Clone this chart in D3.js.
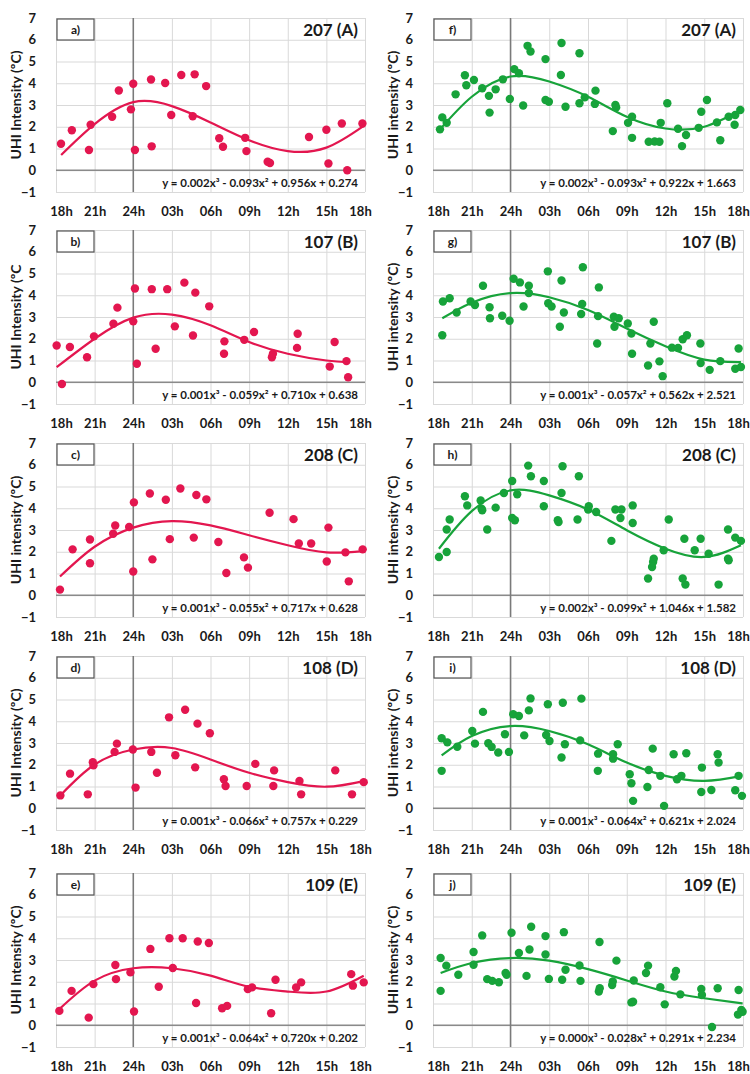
<!DOCTYPE html>
<html>
<head>
<meta charset="utf-8">
<script src="https://cdn.jsdelivr.net/npm/d3@7"></script>
<style>
  body { margin: 0; background: #fff; }
  svg text { font-family: Lato, "Open Sans", sans-serif; fill: #1a1a1a; }
</style>
</head>
<body>
<div id="chart"></div>
<script>
// axis values
var hourVals = [0, 3, 6, 9, 12, 15, 18, 21, 24];
var hourLabels = ["18h", "21h", "24h", "03h", "06h", "09h", "12h", "15h", "18h"];
var yTicks = [-1, 0, 1, 2, 3, 4, 5, 6, 7];

var panelIds = ["a)", "b)", "c)", "d)", "e)", "f)", "g)", "h)", "i)", "j)"];
var siteNames = ["207 (A)", "107 (B)", "208 (C)", "108 (D)", "109 (E)", "207 (A)", "107 (B)", "208 (C)", "108 (D)", "109 (E)"];
var yTitles = ["UHI Intensity (ºC)", "UHI Intensity (ºC", "UHI intensity (ºC)", "UHI Intensity (ºC)", "UHI Intensity (ºC)",
               "UHI intensity (ºC)", "UHI intensity (ºC)", "UHI intensity (ºC)", "UHI intensity (ºC)", "UHI intensity (ºC)"];
var equations = [
  "y = 0.002x³ - 0.093x² + 0.956x + 0.274",
  "y = 0.001x³ - 0.059x² + 0.710x + 0.638",
  "y = 0.001x³ - 0.055x² + 0.717x + 0.628",
  "y = 0.001x³ - 0.066x² + 0.757x + 0.229",
  "y = 0.001x³ - 0.064x² + 0.720x + 0.202",
  "y = 0.002x³ - 0.093x² + 0.922x + 1.663",
  "y = 0.001x³ - 0.057x² + 0.562x + 2.521",
  "y = 0.002x³ - 0.099x² + 1.046x + 1.582",
  "y = 0.001x³ - 0.064x² + 0.621x + 2.024",
  "y = 0.000x³ - 0.028x² + 0.291x + 2.234"
];

// points: [hours after 18h, UHI intensity]
var pointsA = [[0.39,1.22],[1.23,1.84],[2.56,0.93],[2.69,2.09],[4.36,2.46],[4.88,3.67],[5.82,2.80],[6.0,3.98],[6.13,0.93],[7.38,4.17],[7.43,1.10],[8.48,4.01],[8.95,2.54],[9.73,4.38],[10.62,2.48],[10.77,4.41],[11.66,3.87],[12.68,1.47],[12.97,1.08],[14.69,1.49],[14.79,0.88],[16.44,0.39],[16.62,0.33],[19.65,1.53],[21.0,1.86],[21.16,0.31],[22.2,2.15],[22.62,0.0],[23.8,2.15]];
var pointsB = [[0.05,1.69],[0.46,-0.08],[1.08,1.62],[2.41,1.15],[2.95,2.11],[4.46,2.69],[4.77,3.43],[6.0,2.80],[6.13,4.31],[6.28,0.85],[7.44,4.28],[7.74,1.54],[8.64,4.28],[9.23,2.57],[9.97,4.58],[10.64,2.15],[10.82,4.12],[11.9,3.49],[13.08,1.88],[13.05,1.31],[14.62,1.95],[15.38,2.31],[16.77,1.15],[16.85,1.31],[18.77,2.23],[18.72,1.58],[21.26,0.72],[21.64,1.85],[22.56,0.97],[22.69,0.23]];
var pointsC = [[0.31,0.26],[1.29,2.11],[2.64,2.56],[2.64,1.47],[4.44,2.83],[4.6,3.21],[5.68,3.14],[6.05,4.27],[6.0,1.09],[7.29,4.68],[7.49,1.65],[8.53,4.39],[8.84,2.58],[9.66,4.91],[10.7,2.65],[10.9,4.61],[11.68,4.41],[12.61,2.45],[13.23,1.02],[14.6,1.74],[14.91,1.27],[16.59,3.79],[18.45,3.5],[18.86,2.38],[19.82,2.38],[21.03,1.55],[21.16,3.11],[22.48,1.97],[22.74,0.64],[23.82,2.11]];
var pointsD = [[0.34,0.59],[1.09,1.59],[2.47,0.64],[2.86,2.12],[2.91,1.97],[4.55,2.59],[4.73,2.97],[5.97,2.70],[6.18,0.95],[7.4,2.59],[7.84,1.63],[8.78,4.18],[9.27,2.44],[10.03,4.53],[10.81,1.88],[10.99,3.89],[11.95,3.45],[13.04,1.33],[13.17,1.02],[14.81,1.02],[15.48,2.04],[16.94,1.74],[16.88,1.02],[18.91,1.25],[19.04,0.64],[21.69,1.74],[22.99,0.64],[23.9,1.20]];
var pointsE = [[0.26,0.66],[1.21,1.58],[2.54,0.35],[2.9,1.89],[4.61,2.77],[4.66,2.12],[5.78,2.43],[6.06,0.63],[7.33,3.51],[7.98,1.77],[8.81,4.0],[9.07,2.63],[9.84,4.0],[10.88,1.02],[11.01,3.85],[11.87,3.78],[12.9,0.78],[13.29,0.89],[14.9,1.66],[15.23,1.74],[16.71,0.55],[17.05,2.09],[18.65,1.74],[19.04,1.97],[22.93,2.35],[23.06,1.82],[23.9,1.97]];
var pointsF = [[0.54,1.88],[0.72,2.43],[1.06,2.18],[1.75,3.49],[2.47,4.37],[2.58,3.91],[3.17,4.15],[3.81,3.77],[4.33,3.42],[4.38,2.65],[4.85,3.72],[5.41,4.18],[5.95,3.28],[6.29,4.65],[6.65,4.46],[6.98,2.98],[7.32,5.72],[7.55,5.46],[8.71,5.11],[8.71,3.23],[8.97,3.15],[9.9,4.38],[9.95,5.85],[10.26,2.92],[11.34,5.38],[11.34,3.08],[11.75,3.35],[12.53,3.05],[12.58,3.66],[13.92,1.80],[14.12,3.0],[14.18,2.89],[15.1,2.18],[15.41,2.46],[15.41,1.49],[16.7,1.31],[17.16,1.32],[17.53,1.31],[17.63,2.18],[18.14,3.08],[18.97,1.91],[19.28,1.11],[19.59,1.62],[20.57,1.95],[20.77,2.69],[21.21,3.23],[21.98,2.2],[22.24,1.38],[22.89,2.46],[23.35,2.09],[23.4,2.54],[23.79,2.77]];
var pointsG = [[0.77,3.71],[0.72,2.16],[1.29,3.86],[1.83,3.21],[2.91,3.71],[3.25,3.55],[3.87,4.44],[4.38,3.45],[4.41,2.94],[5.36,3.06],[5.93,2.83],[6.24,4.76],[6.73,4.59],[7.01,3.48],[7.42,4.44],[7.42,4.10],[8.89,5.10],[8.92,3.63],[9.18,3.48],[9.95,4.68],[9.82,2.55],[10.13,3.21],[11.6,5.29],[11.55,3.60],[11.47,3.14],[12.78,3.04],[12.71,1.78],[12.84,4.36],[14.0,3.01],[14.38,2.94],[14.05,2.55],[15.08,2.70],[15.36,2.24],[15.41,1.31],[16.65,0.77],[16.83,1.78],[17.09,2.78],[17.53,0.96],[17.78,0.28],[18.5,1.59],[18.97,1.58],[19.33,1.98],[19.66,2.16],[20.7,1.78],[20.72,0.88],[21.42,0.57],[22.24,0.97],[23.4,0.62],[23.66,1.55],[23.84,0.70]];
var pointsH = [[0.46,1.76],[1.06,1.99],[1.06,3.02],[1.29,3.48],[2.47,4.55],[2.65,4.13],[3.69,4.36],[3.76,3.98],[3.81,3.91],[4.2,3.02],[4.85,4.03],[5.49,4.70],[6.13,5.25],[6.13,3.55],[6.34,3.45],[6.52,4.64],[7.37,5.96],[7.58,5.47],[8.58,5.25],[8.58,4.09],[9.66,3.45],[9.72,3.37],[9.95,4.70],[10.03,5.93],[11.19,3.48],[11.29,5.47],[12.01,3.94],[12.06,4.09],[12.63,3.83],[13.81,2.50],[14.12,3.94],[14.59,3.94],[14.51,3.55],[15.46,4.13],[15.46,3.32],[16.65,0.77],[16.96,1.30],[17.04,1.53],[17.09,1.68],[17.86,2.07],[18.25,3.48],[19.33,0.77],[19.46,2.60],[19.54,0.49],[20.26,2.07],[20.72,2.60],[21.34,1.91],[22.11,0.49],[22.84,3.02],[22.84,1.68],[22.89,1.61],[23.4,2.65],[23.84,2.50]];
var pointsI = [[0.67,3.22],[0.67,1.72],[1.11,3.03],[1.88,2.83],[3.04,3.55],[3.25,2.97],[3.87,4.43],[4.28,2.99],[4.54,2.82],[5.05,2.56],[5.57,3.40],[5.88,2.59],[6.21,4.32],[6.65,4.24],[7.06,3.35],[7.42,4.50],[7.55,5.05],[8.76,3.37],[8.89,4.78],[9.02,3.09],[9.95,2.33],[10.05,4.85],[10.21,2.94],[11.39,3.12],[11.49,5.04],[12.78,2.51],[12.76,1.72],[13.94,2.48],[13.94,2.28],[14.3,2.94],[15.23,1.56],[15.36,1.15],[15.49,0.34],[16.6,0.98],[16.7,1.76],[17.01,2.74],[17.6,1.49],[17.89,0.11],[18.63,2.48],[18.89,1.33],[19.23,1.49],[19.61,2.53],[20.77,0.75],[20.82,1.87],[21.55,0.84],[22.04,2.48],[22.11,2.10],[23.4,0.83],[23.66,1.49],[23.92,0.57]];
var pointsJ = [[0.59,3.09],[0.59,1.58],[1.03,2.74],[1.96,2.32],[3.14,3.37],[3.14,2.78],[3.81,4.13],[4.2,2.12],[4.59,2.04],[5.10,1.98],[5.62,2.40],[5.70,2.32],[6.08,4.25],[6.65,3.32],[7.24,2.27],[7.47,3.48],[7.60,4.53],[8.71,4.10],[8.71,3.25],[8.97,2.13],[10.0,2.09],[10.13,4.28],[10.26,2.55],[11.34,2.75],[11.42,2.04],[12.89,3.83],[12.84,1.55],[12.91,1.70],[13.87,1.85],[13.92,2.01],[14.2,2.97],[15.36,1.05],[15.49,1.08],[15.54,2.06],[16.49,2.40],[16.65,2.74],[17.6,1.75],[17.94,0.96],[18.69,2.24],[18.81,2.50],[19.15,1.42],[20.77,1.67],[20.82,1.39],[21.6,-0.08],[22.04,1.70],[23.66,1.62],[23.61,0.49],[23.97,0.62],[23.87,0.70]];

// trend line
var trendA = [[0.4,0.70],[3,2.12],[6,3.13],[9,2.95],[12,2.2],[15,1.38],[18,0.88],[21,1.04],[23.9,2.04]];
var trendB = [[0.05,0.69],[3,2.0],[6,2.97],[9,3.11],[12,2.62],[15,1.85],[18,1.31],[21,1.0],[22.7,0.92]];
var trendC = [[0.31,0.86],[3,2.23],[6,3.11],[9,3.41],[12,3.21],[15,2.76],[18,2.30],[21,1.97],[23.82,2.03]];
var trendD = [[0.34,0.59],[3,2.01],[6,2.70],[9,2.77],[12,2.24],[15,1.63],[18,1.20],[21,0.99],[23.9,1.25]];
var trendE = [[0.26,0.74],[3,2.05],[6,2.62],[9,2.62],[12,2.28],[15,1.77],[18,1.55],[21,1.55],[23.9,2.28]];
var trendF = [[0.5,1.85],[3,3.38],[6,4.31],[9,4.08],[12,3.38],[15,2.46],[18,1.92],[21,2.0],[23.8,2.77]];
var trendG = [[0.72,2.94],[3,3.66],[6,4.10],[9,3.91],[12,3.32],[15,2.47],[18,1.65],[21,1.04],[23.84,0.93]];
var trendH = [[0.46,2.14],[3,3.87],[6,4.82],[9,4.59],[12,3.94],[15,2.99],[18,2.14],[21,1.76],[23.84,2.30]];
var trendI = [[0.67,2.43],[3,3.32],[6,3.78],[9,3.55],[12,2.94],[15,2.10],[18,1.49],[21,1.26],[23.92,1.49]];
var trendJ = [[0.59,2.40],[3,2.86],[6,3.09],[9,2.97],[12,2.58],[15,2.06],[18,1.55],[21,1.24],[23.97,1.0]];

var allPoints = [pointsA, pointsB, pointsC, pointsD, pointsE, pointsF, pointsG, pointsH, pointsI, pointsJ];
var allTrends = [trendA, trendB, trendC, trendD, trendE, trendF, trendG, trendH, trendI, trendJ];

var width = 750, height = 1074;
var colX = [[56, 365], [433, 743]];
var rowTop = [18, 230, 443, 656, 873];
var plotH = 174;
var colors = ["#e3164f", "#17a33a"];

var svg = d3.select("#chart").append("svg")
    .attr("width", width)
    .attr("height", height);

panelIds.forEach(function(id, i) {
    var col = i < 5 ? 0 : 1,
        row = i % 5,
        x0 = colX[col][0], x1 = colX[col][1],
        top = rowTop[row], bottom = top + plotH,
        color = colors[col];

    var x = d3.scaleLinear().domain([0, 24]).range([x0, x1]);
    var y = d3.scaleLinear().domain([-1, 7]).range([bottom, top]);

    var g = svg.append("g");

    // grid lines
    g.append("g")
        .attr("transform", "translate(0," + bottom + ")")
        .call(d3.axisBottom(x).tickValues(hourVals).tickSize(-plotH).tickFormat(""))
        .call(function(s) { s.select(".domain").remove(); })
        .selectAll("line").attr("stroke", "#d9d9d9");
    g.append("g")
        .attr("transform", "translate(" + x0 + ",0)")
        .call(d3.axisLeft(y).tickValues(yTicks).tickSize(-(x1 - x0)).tickFormat(""))
        .call(function(s) { s.select(".domain").remove(); })
        .selectAll("line").attr("stroke", "#d9d9d9");

    // zero line and midnight line
    g.append("line")
        .attr("x1", x0).attr("x2", x1)
        .attr("y1", y(0)).attr("y2", y(0))
        .attr("stroke", "#8a8a8a").attr("stroke-width", 1.5);
    g.append("line")
        .attr("x1", x(6)).attr("x2", x(6))
        .attr("y1", top).attr("y2", bottom)
        .attr("stroke", "#7a7a7a").attr("stroke-width", 1.5);

    // tick labels
    var xa = g.append("g")
        .attr("transform", "translate(0," + bottom + ")")
        .call(d3.axisBottom(x).tickValues(hourVals).tickSize(0).tickPadding(15)
            .tickFormat(function(d, k) { return hourLabels[k]; }))
        .call(function(s) { s.select(".domain").remove(); });
    xa.selectAll("text")
        .style("font-family", "Lato, sans-serif")
        .style("font-size", "13px").style("font-weight", "bold").attr("fill", "#1a1a1a")
        .attr("dx", function(d, k) { return k === 0 ? 5 : (k === hourVals.length - 1 ? -5 : 0); });

    var ya = g.append("g")
        .attr("transform", "translate(" + x0 + ",0)")
        .call(d3.axisLeft(y).tickValues(yTicks).tickSize(0).tickPadding(20).tickFormat(d3.format("d")))
        .call(function(s) { s.select(".domain").remove(); });
    ya.selectAll("text")
        .style("font-family", "Lato, sans-serif")
        .style("font-size", "13px").style("font-weight", "bold").attr("fill", "#1a1a1a");

    // y title
    g.append("text")
        .attr("transform", "translate(" + (x0 - 40) + "," + ((top + bottom) / 2) + ") rotate(-90)")
        .attr("text-anchor", "middle")
        .attr("dy", "0.35em")
        .style("font-size", "14px").style("font-weight", "bold")
        .text(yTitles[i]);

    // scatter
    g.append("g").selectAll("circle")
        .data(allPoints[i])
        .enter().append("circle")
        .attr("cx", function(d) { return x(d[0]); })
        .attr("cy", function(d) { return y(d[1]); })
        .attr("r", 4.2)
        .attr("fill", color);

    // trend
    var line = d3.line()
        .curve(d3.curveNatural)
        .x(function(d) { return x(d[0]); })
        .y(function(d) { return y(d[1]); });
    g.append("path")
        .datum(allTrends[i])
        .attr("d", line)
        .attr("fill", "none")
        .attr("stroke", color)
        .attr("stroke-width", 2.2);

    // panel letter box
    g.append("rect")
        .attr("x", x0 + 1).attr("y", top + 1)
        .attr("width", 37).attr("height", 21)
        .attr("fill", "#fff").attr("stroke", "#555").attr("stroke-width", 1.2);
    g.append("text")
        .attr("x", x0 + 19.5).attr("y", top + 16)
        .attr("text-anchor", "middle")
        .style("font-size", "12px").style("font-weight", "bold")
        .text(id);

    // site name
    g.append("text")
        .attr("x", x1 - 7).attr("y", top + 18)
        .attr("text-anchor", "end")
        .style("font-size", "17px").style("font-weight", "bold")
        .text(siteNames[i]);

    // equation
    g.append("text")
        .attr("x", x1 - 7).attr("y", y(-0.58) + 4)
        .attr("text-anchor", "end")
        .style("font-size", "11.5px").style("font-weight", "bold")
        .text(equations[i]);
});
</script>
</body>
</html>
